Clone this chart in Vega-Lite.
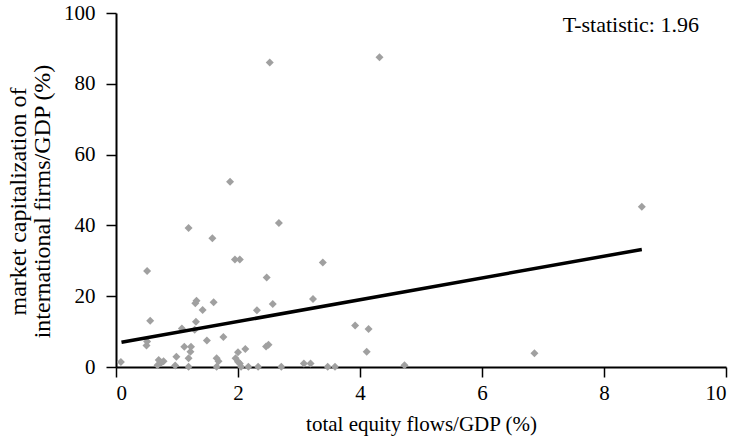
{
  "$schema": "https://vega.github.io/schema/vega-lite/v6.json",
  "autosize": "none",
  "width": 610,
  "height": 354,
  "padding": {"left": 116, "top": 13, "right": 15, "bottom": 74},
  "background": "white",
  "config": {
    "view": {"stroke": null},
    "font": "Liberation Serif",
    "axis": {
      "grid": false,
      "domainColor": "black",
      "domainWidth": 2,
      "tickColor": "black",
      "tickWidth": 1.5,
      "tickSize": 10,
      "labelFont": "Liberation Serif",
      "labelFontSize": 21,
      "labelColor": "black",
      "titleFont": "Liberation Serif",
      "titleFontSize": 21,
      "titleFontWeight": "normal",
      "titleColor": "black"
    }
  },
  "datasets": {
    "points": [
      {"x": 0.08, "y": 1.4}, {"x": 0.51, "y": 27.1}, {"x": 0.56, "y": 13.1}, {"x": 0.51, "y": 7.2},
      {"x": 0.50, "y": 6.1}, {"x": 0.70, "y": 2.0}, {"x": 0.74, "y": 1.2}, {"x": 0.68, "y": 0.5},
      {"x": 0.78, "y": 1.6}, {"x": 0.97, "y": 0.4}, {"x": 0.99, "y": 2.9}, {"x": 1.08, "y": 10.9},
      {"x": 1.12, "y": 5.7}, {"x": 1.19, "y": 2.5}, {"x": 1.19, "y": 0.1}, {"x": 1.23, "y": 5.7},
      {"x": 1.22, "y": 4.3}, {"x": 1.29, "y": 10.5}, {"x": 1.31, "y": 12.8}, {"x": 1.32, "y": 18.7},
      {"x": 1.30, "y": 18.0}, {"x": 1.42, "y": 16.1}, {"x": 1.49, "y": 7.5}, {"x": 1.60, "y": 18.3},
      {"x": 1.65, "y": 2.5}, {"x": 1.68, "y": 1.6}, {"x": 1.65, "y": 0.1}, {"x": 1.76, "y": 8.5},
      {"x": 1.95, "y": 30.4}, {"x": 2.03, "y": 30.4}, {"x": 1.96, "y": 2.5}, {"x": 2.00, "y": 4.2},
      {"x": 2.00, "y": 1.5}, {"x": 2.03, "y": 1.0}, {"x": 2.05, "y": 0.1}, {"x": 2.12, "y": 5.1},
      {"x": 2.17, "y": 0.1}, {"x": 2.31, "y": 16.0}, {"x": 2.33, "y": 0.1}, {"x": 2.47, "y": 25.3},
      {"x": 2.46, "y": 5.8}, {"x": 2.50, "y": 6.3}, {"x": 2.57, "y": 17.8}, {"x": 2.71, "y": 0.1},
      {"x": 1.87, "y": 52.3}, {"x": 1.19, "y": 39.3}, {"x": 1.58, "y": 36.4}, {"x": 2.67, "y": 40.7},
      {"x": 2.52, "y": 86.0}, {"x": 3.39, "y": 29.5}, {"x": 3.23, "y": 19.2}, {"x": 3.92, "y": 11.7},
      {"x": 4.14, "y": 10.7}, {"x": 4.11, "y": 4.3}, {"x": 3.08, "y": 1.0}, {"x": 3.19, "y": 1.0},
      {"x": 3.47, "y": 0.1}, {"x": 3.59, "y": 0.1}, {"x": 4.73, "y": 0.5}, {"x": 4.32, "y": 87.5},
      {"x": 8.62, "y": 45.3}, {"x": 6.86, "y": 3.9}
    ],
    "fit": [
      {"x": 0.09, "y": 7.0},
      {"x": 8.62, "y": 33.2}
    ],
    "note": [
      {"x": 8.44, "y": 96.6, "label": "T-statistic: 1.96"}
    ]
  },
  "layer": [
    {
      "data": {"name": "points"},
      "mark": {"type": "point", "shape": "diamond", "filled": true, "size": 64, "color": "#a0a0a0", "opacity": 1},
      "encoding": {
        "x": {
          "field": "x", "type": "quantitative",
          "scale": {"domain": [0, 10], "nice": false},
          "axis": {"values": [0, 2, 4, 6, 8, 10], "format": "d", "labelFont": "Liberation Serif", "title": "total equity flows/GDP (%)", "labelPadding": 5, "titlePadding": 10}
        },
        "y": {
          "field": "y", "type": "quantitative",
          "scale": {"domain": [0, 100], "nice": false},
          "axis": {"values": [0, 20, 40, 60, 80, 100], "format": "d", "labelFont": "Liberation Serif", "title": ["market capitalization of", "international firms/GDP (%)"], "titleFontSize": 24, "titleY": 188, "labelPadding": 11, "titlePadding": 9, "titleLineHeight": 24}
        }
      }
    },
    {
      "data": {"name": "fit"},
      "mark": {"type": "line", "color": "black", "strokeWidth": 3.5},
      "encoding": {
        "x": {"field": "x", "type": "quantitative"},
        "y": {"field": "y", "type": "quantitative"}
      }
    },
    {
      "data": {"name": "note"},
      "mark": {"type": "text", "fontSize": 22, "align": "center", "baseline": "middle", "color": "black", "font": "Liberation Serif"},
      "encoding": {
        "x": {"field": "x", "type": "quantitative"},
        "y": {"field": "y", "type": "quantitative"},
        "text": {"field": "label"}
      }
    }
  ]
}
